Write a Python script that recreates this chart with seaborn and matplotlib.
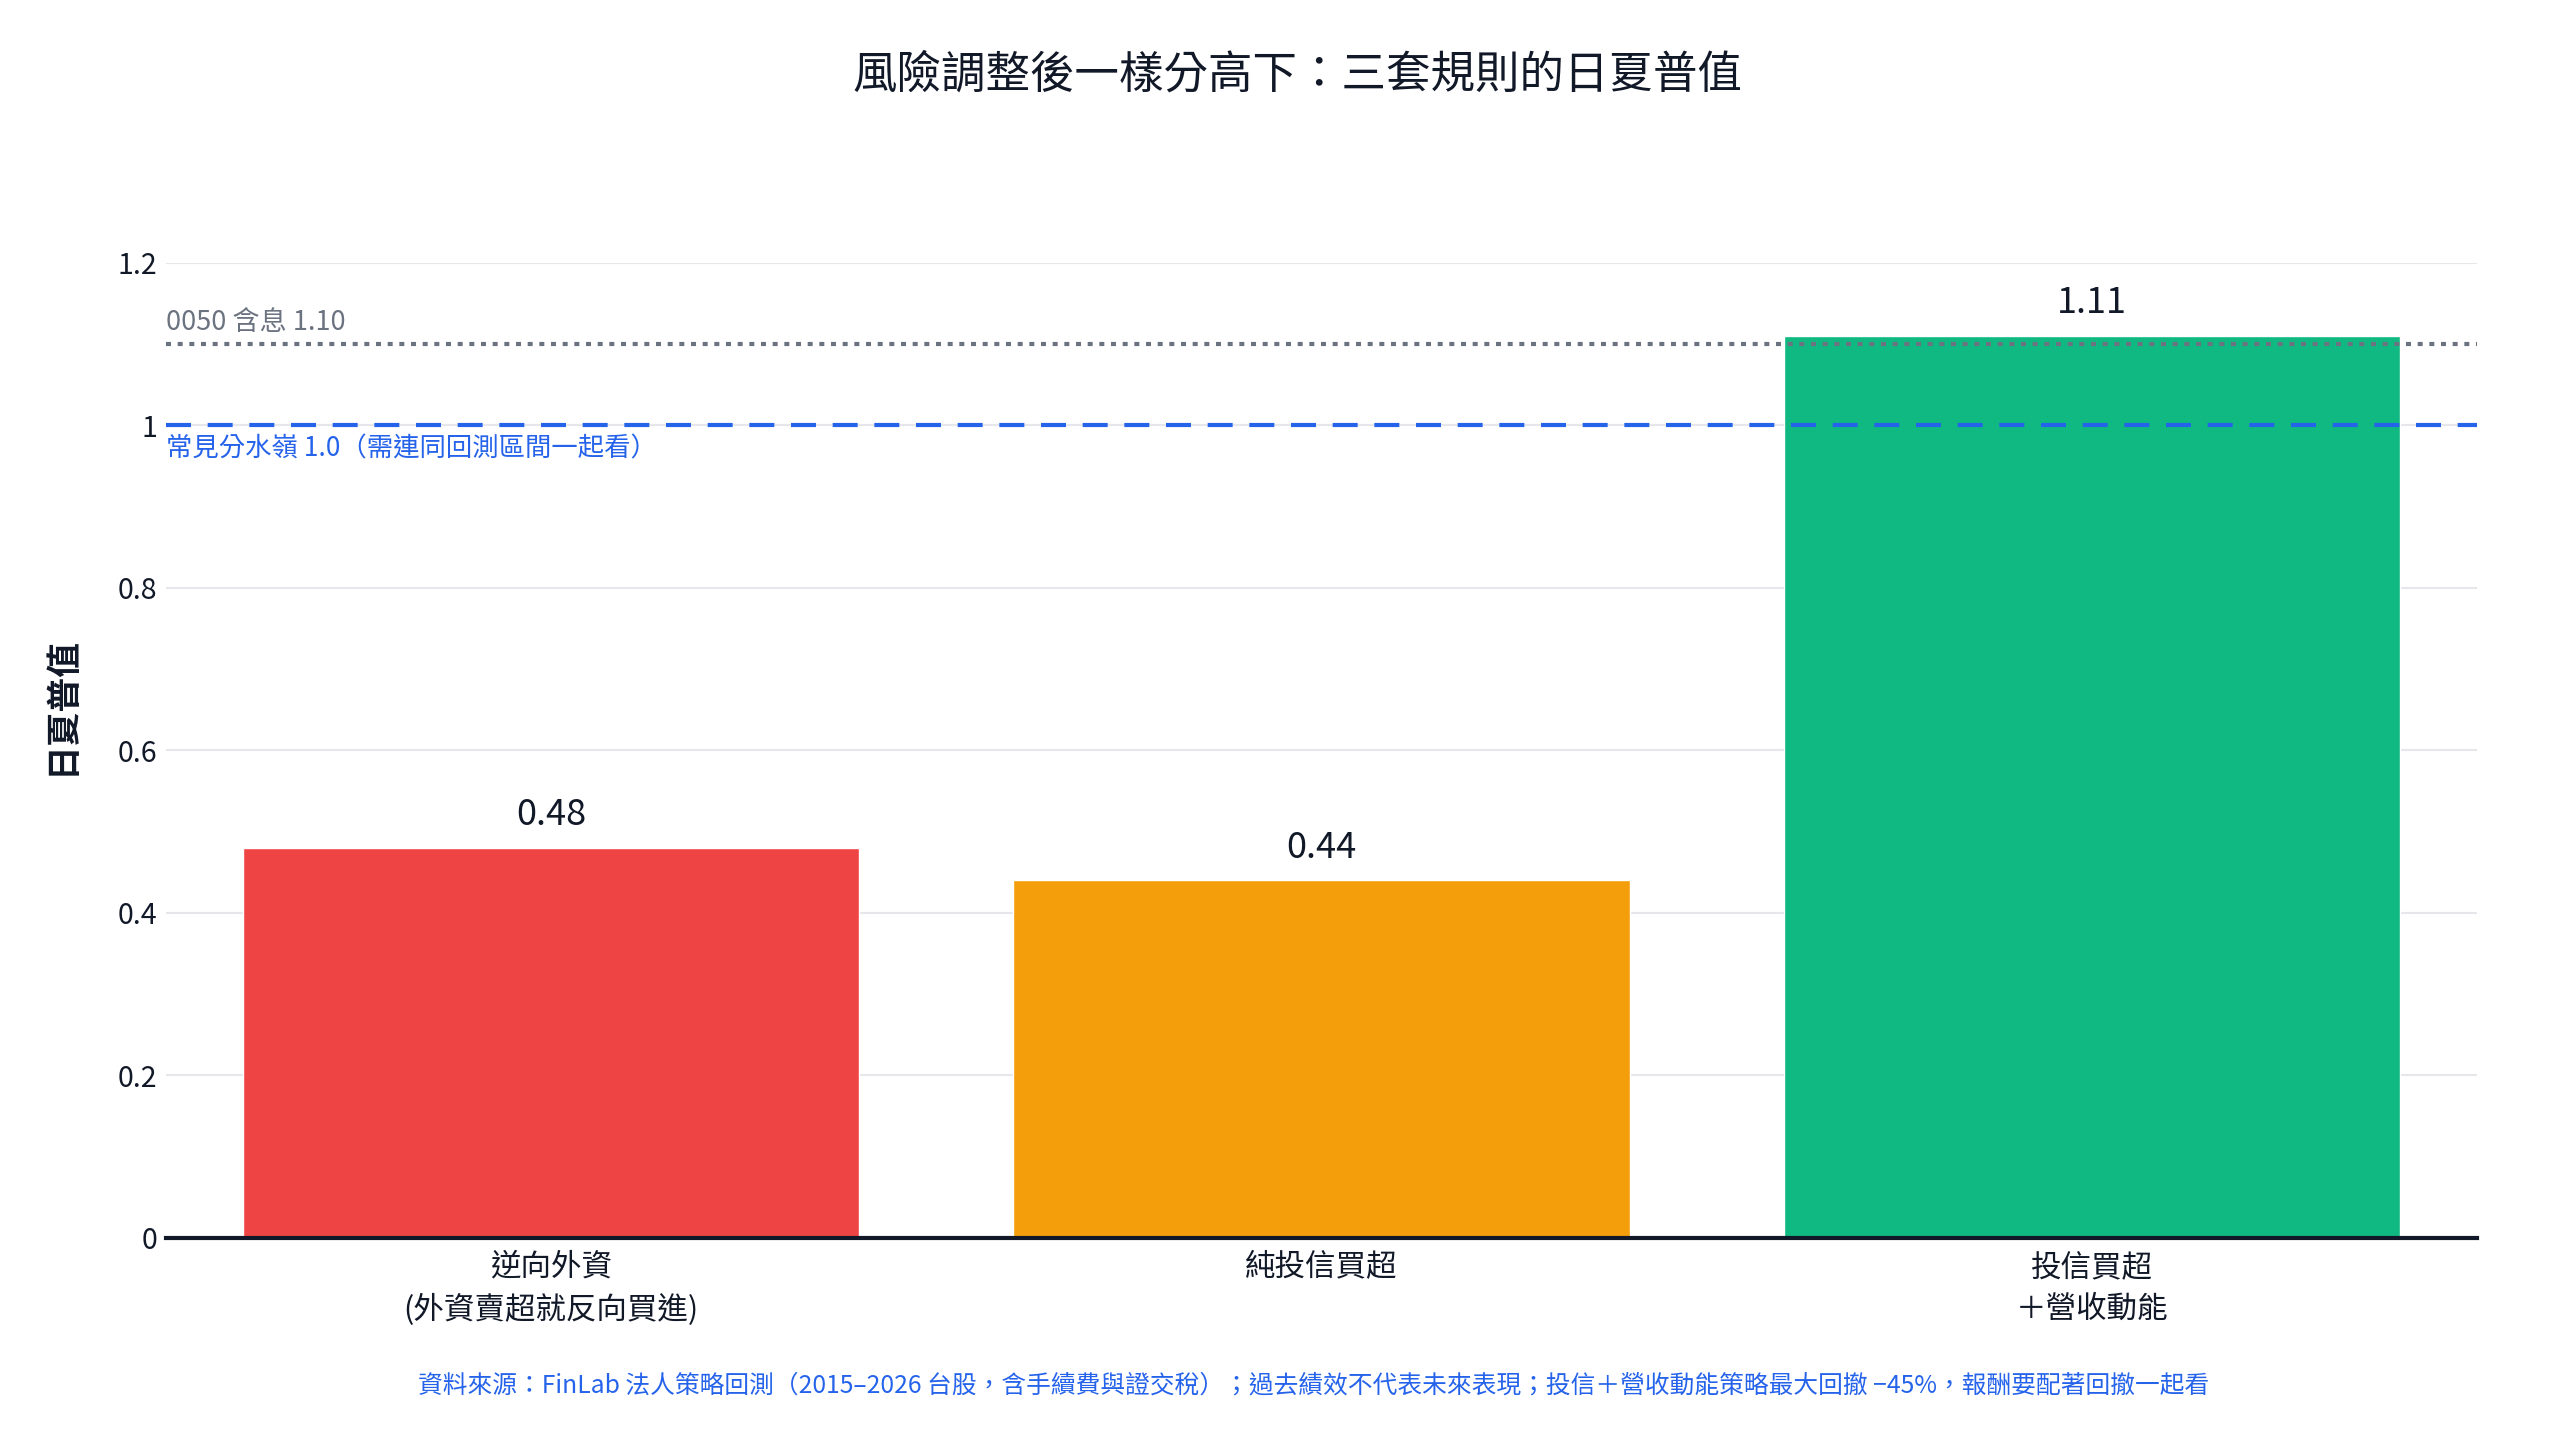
import pandas as pd
import seaborn as sns
import matplotlib.pyplot as plt

strategies = ["逆向外資\n(外資賣超就反向買進)", "純投信買超", "投信買超\n＋營收動能"]
sharpe = [0.48, 0.44, 1.11]
bar_colors = ["#EF4444", "#F59E0B", "#10B981"]
benchmark_0050 = 1.10
threshold = 1.0
y_ticks = [0, 0.2, 0.4, 0.6, 0.8, 1.0, 1.2]
y_tick_labels = ["0", "0.2", "0.4", "0.6", "0.8", "1", "1.2"]

title = "風險調整後一樣分高下：三套規則的日夏普值"
ylabel = "日夏普值"
footer = ("資料來源：FinLab 法人策略回測（2015–2026 台股，含手續費與證交稅）；過去績效不代表未來表現；"
          "投信＋營收動能策略最大回撤 −45%，報酬要配著回撤一起看")

df = pd.DataFrame({"strategy": strategies, "sharpe": sharpe})

sns.set_style("white")
plt.rcParams["font.family"] = ["Noto Sans CJK TC", "DejaVu Sans"]

fig = plt.figure(figsize=(25.6, 14.4), dpi=100)
ax = fig.add_axes([0.0648, 0.1403, 0.9028, 0.6771])

sns.barplot(data=df, x="strategy", y="sharpe", hue="strategy",
            palette=dict(zip(strategies, bar_colors)), legend=False, saturation=1,
            width=0.8, edgecolor="white", linewidth=1, ax=ax, zorder=3)

ax.set_ylim(0, 1.2)
ax.set_xlim(-0.5, 2.5)
ax.set_yticks(y_ticks)
ax.set_yticklabels(y_tick_labels, fontsize=20.5, color="#111827")
ax.tick_params(axis="x", labelsize=22, colors="#111827", length=0, pad=10)
ax.tick_params(axis="y", length=0, pad=6)
for lbl in ax.get_xticklabels():
    lbl.set_linespacing(1.45)
ax.grid(axis="y", color="#E5E7EB", linewidth=1.5, zorder=0)
ax.set_axisbelow(True)
for side in ["top", "right", "left"]:
    ax.spines[side].set_visible(False)
ax.spines["bottom"].set_color("#111827")
ax.spines["bottom"].set_linewidth(3)
ax.spines["bottom"].set_zorder(5)
ax.set_xlabel("")
ax.set_ylabel("")

# reference lines
ax.axhline(benchmark_0050, color="#6B7280", linestyle=(0, (1.2, 1.6)), linewidth=3, zorder=4)
ax.axhline(threshold, color="#2563EB", linestyle=(0, (6, 4)), linewidth=3, zorder=4)
ax.text(-0.5, benchmark_0050 + 0.027, f"0050 含息 {benchmark_0050:.2f}",
        fontsize=19.5, color="#6B7280", ha="left", va="center")
ax.text(-0.5, threshold - 0.029, f"常見分水嶺 {threshold:.1f}（需連同回測區間一起看）",
        fontsize=19, color="#2563EB", ha="left", va="center")

for i, v in enumerate(sharpe):
    ax.text(i, v + 0.018, f"{v:.2f}", ha="center", va="bottom", fontsize=26, color="#111827", zorder=6)

fig.text(0.507, 0.948, title, ha="center", va="center", fontsize=32, color="#111827")
fig.text(0.024, 0.51, ylabel, ha="center", va="center", rotation=90, fontsize=25,
         fontweight="bold", color="#111827")
fig.text(0.513, 0.038, footer, ha="center", va="center", fontsize=17.8, color="#2563EB")

fig.savefig("out.png", dpi=100)
